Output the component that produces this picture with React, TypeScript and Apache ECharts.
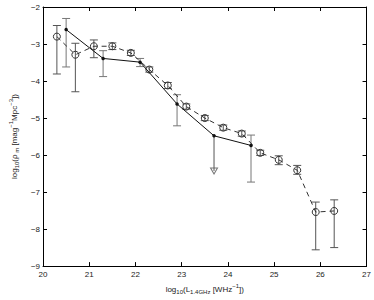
import { useEffect, useRef } from "react";
import * as echarts from "echarts";

// Dashed series (open circles)
const circX = [20.3, 20.7, 21.1, 21.5, 21.9, 22.3, 22.7, 23.1, 23.5, 23.9, 24.3, 24.7, 25.1, 25.5, 25.9, 26.3];
const circY = [-2.80, -3.29, -3.06, -3.06, -3.24, -3.69, -4.12, -4.69, -5.00, -5.26, -5.42, -5.94, -6.13, -6.41, -7.54, -7.51];
const circHi = [-2.50, -2.98, -2.89, -2.97, -3.17, -3.62, -4.04, -4.62, -4.93, -5.19, -5.35, -5.87, -6.02, -6.28, -7.27, -7.21];
const circLo = [-3.81, -4.29, -3.37, -3.15, -3.31, -3.76, -4.20, -4.76, -5.07, -5.33, -5.49, -6.01, -6.26, -6.52, -8.56, -8.50];

// Solid series (filled dots)
const solX = [20.5, 21.3, 22.1, 22.9, 23.7, 24.5];
const solY = [-2.61, -3.39, -3.49, -4.62, -5.48, -5.74];
const solHi = [-2.31, -3.18, -3.39, -4.37, null, -5.46];
const solLo = [-3.62, -3.88, -3.61, -5.21, null, -6.73];

// Upper limit (arrow) for the solid series
const limX = [23.7];
const limFrom = [-5.48];
const limTo = [-6.43];

const xMin = 20, xMax = 27, yMin = -9, yMax = -2;

const FONT = '"Liberation Sans", Arial, Helvetica, sans-serif';
const INK = "#222";
const ERR = "#555";

function makeErr(capHalf: number, color: string) {
  return (params: any, api: any) => {
    const x = api.value(0);
    const lo = api.value(1);
    const hi = api.value(2);
    const a = api.coord([x, lo]);
    const b = api.coord([x, hi]);
    const style = { stroke: color, lineWidth: 1, fill: null };
    const children: any[] = [
      { type: "line", shape: { x1: a[0], y1: a[1], x2: b[0], y2: b[1] }, style },
    ];
    if (capHalf > 0) {
      children.push({ type: "line", shape: { x1: a[0] - capHalf, y1: a[1], x2: a[0] + capHalf, y2: a[1] }, style });
      children.push({ type: "line", shape: { x1: b[0] - capHalf, y1: b[1], x2: b[0] + capHalf, y2: b[1] }, style });
    }
    return { type: "group", children };
  };
}

const fmtMinus = (v: number) => (v < 0 ? "\u2212" + Math.abs(v) : String(v));

export default function App() {
  const ref = useRef<HTMLDivElement>(null);
  useEffect(() => {
    if (!ref.current) return;
    const chart = echarts.init(ref.current, undefined, { renderer: "svg" });
    const rich = {
      n: { fontSize: 8, fontFamily: FONT, color: INK, lineHeight: 12 },
      s: { fontSize: 6, fontFamily: FONT, color: INK, lineHeight: 7, verticalAlign: "bottom" },
      p: { fontSize: 6, fontFamily: FONT, color: INK, lineHeight: 7, verticalAlign: "top" },
    };
    const axisCommon = {
      axisLine: { lineStyle: { color: "#000", width: 1 } },
      axisTick: { inside: true, length: 4, lineStyle: { color: "#000" } },
      splitLine: { show: false },
    };
    chart.setOption({
      animation: false,
      grid: { left: 24, right: 7, top: 7, bottom: 23 },
      xAxis: [
        {
          type: "value", min: xMin, max: xMax, interval: 1,
          ...axisCommon,
          axisLabel: { fontSize: 8, fontFamily: FONT, color: INK, margin: 4, formatter: fmtMinus },
          name: "{n|log}{s|10}{n|(L}{s|1.4GHz}{n| [WHz}{p|\u22121}{n|])}",
          nameLocation: "middle",
          nameGap: 14,
          nameTextStyle: { rich },
        },
        {
          type: "value", position: "top", min: xMin, max: xMax, interval: 1,
          ...axisCommon,
          axisLabel: { show: false },
        },
      ],
      yAxis: [
        {
          type: "value", min: yMin, max: yMax, interval: 1,
          ...axisCommon,
          axisLabel: { fontSize: 8, fontFamily: FONT, color: INK, margin: 3, formatter: fmtMinus },
          name: "{n|log}{s|10}{n|(\u03c1}{s| m}{n| [mag}{p|\u22121}{n|Mpc}{p|\u22123}{n|])}",
          nameLocation: "middle",
          nameRotate: 90,
          nameGap: 13,
          nameTextStyle: { rich },
        },
        {
          type: "value", position: "right", min: yMin, max: yMax, interval: 1,
          ...axisCommon,
          axisLabel: { show: false },
        },
      ],
      series: [
        {
          type: "custom",
          renderItem: makeErr(4, ERR),
          data: circX.map((x, i) => [x, circLo[i], circHi[i]]),
          encode: { x: 0, y: [1, 2] },
          z: 1,
        },
        {
          type: "custom",
          renderItem: makeErr(4, "#777"),
          data: solX
            .map((x, i) => [x, solLo[i], solHi[i]])
            .filter((d) => d[1] != null && d[2] != null),
          encode: { x: 0, y: [1, 2] },
          z: 1,
        },
        {
          type: "custom",
          renderItem: makeErr(0, ERR),
          data: limX.map((x, i) => [x, limTo[i], limFrom[i]]),
          encode: { x: 0, y: [1, 2] },
          z: 1,
        },
        {
          type: "scatter",
          data: limX.map((x, i) => [x, limTo[i]]),
          symbol: "triangle",
          symbolRotate: 180,
          symbolSize: [7, 6],
          itemStyle: { color: "rgba(0,0,0,0)", borderColor: ERR, borderWidth: 1 },
          z: 2,
        },
        {
          type: "line",
          data: circX.map((x, i) => [x, circY[i]]),
          symbol: "circle",
          symbolSize: 7,
          showSymbol: true,
          lineStyle: { color: "#333", width: 1, type: [5, 4] },
          itemStyle: { color: "rgba(0,0,0,0)", borderColor: "#333", borderWidth: 1 },
          z: 3,
        },
        {
          type: "line",
          data: solX.map((x, i) => [x, solY[i]]),
          symbol: "circle",
          symbolSize: 3.5,
          lineStyle: { color: "#111", width: 1 },
          itemStyle: { color: "#111" },
          z: 4,
        },
      ],
    });
    return () => chart.dispose();
  }, []);
  return (
    <div
      ref={ref}
      style={{ position: "absolute", left: 0, top: 0, width: 374, height: 300, background: "#fff" }}
    />
  );
}
